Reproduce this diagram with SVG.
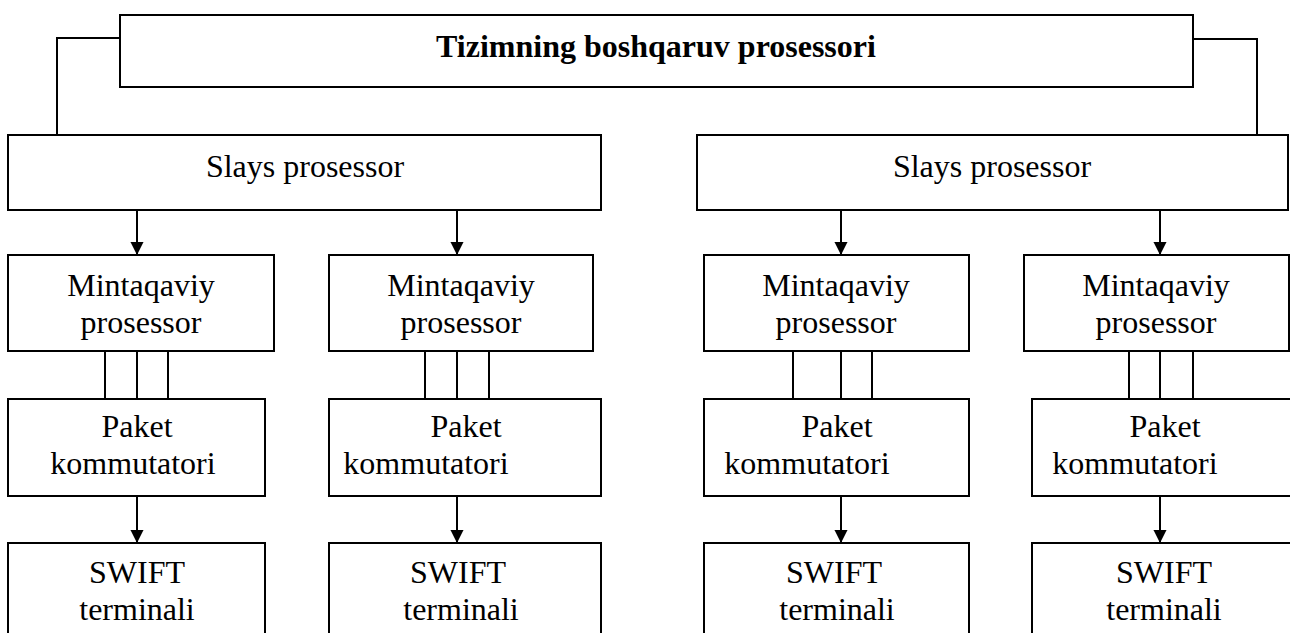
<svg xmlns="http://www.w3.org/2000/svg" width="1290" height="633" viewBox="0 0 1290 633">
  <style>
    .box { fill: #ffffff; stroke: #000000; stroke-width: 2; }
    text { font-family: 'Liberation Serif', 'Tinos', 'Times New Roman', 'DejaVu Serif', serif; font-size: 32px; fill: #000000; text-anchor: middle; }
    .title { font-weight: bold; }
    .wire { fill: none; stroke: #000000; stroke-width: 2; }
    .arrow { fill: none; stroke: #000000; stroke-width: 2; marker-end: url(#head); }
  </style>
  <defs>
    <marker id="head" viewBox="0 0 14 15" refX="14" refY="7" markerWidth="15" markerHeight="14" markerUnits="userSpaceOnUse" orient="auto">
      <path d="M0,0 L14,7 L0,14 Z" fill="#000000"/>
    </marker>
  </defs>
  <rect width="1290" height="633" fill="#ffffff"/>

  <!-- links between blocks -->
  <g id="connectors">
    <polyline class="wire" points="120,38 57,38 57,135"/>
    <polyline class="wire" points="1193,39 1257,39 1257,135"/>
    <!-- slice processor to regional processors -->
    <line class="arrow" x1="137" y1="206" x2="137" y2="255"/>
    <line class="arrow" x1="457" y1="206" x2="457" y2="255"/>
    <line class="arrow" x1="841" y1="206" x2="841" y2="255"/>
    <line class="arrow" x1="1160" y1="206" x2="1160" y2="255"/>
    <!-- triple links regional processor to packet switch -->
    <line class="wire" x1="105" y1="351" x2="105" y2="399"/>
    <line class="wire" x1="137" y1="351" x2="137" y2="399"/>
    <line class="wire" x1="168" y1="351" x2="168" y2="399"/>
    <line class="wire" x1="425" y1="351" x2="425" y2="399"/>
    <line class="wire" x1="457" y1="351" x2="457" y2="399"/>
    <line class="wire" x1="489" y1="351" x2="489" y2="399"/>
    <line class="wire" x1="793" y1="351" x2="793" y2="399"/>
    <line class="wire" x1="841" y1="351" x2="841" y2="399"/>
    <line class="wire" x1="872" y1="351" x2="872" y2="399"/>
    <line class="wire" x1="1129" y1="351" x2="1129" y2="399"/>
    <line class="wire" x1="1160" y1="351" x2="1160" y2="399"/>
    <line class="wire" x1="1193" y1="351" x2="1193" y2="399"/>
    <!-- packet switch to SWIFT terminal -->
    <line class="arrow" x1="137" y1="496" x2="137" y2="543"/>
    <line class="arrow" x1="457" y1="496" x2="457" y2="543"/>
    <line class="arrow" x1="841" y1="496" x2="841" y2="543"/>
    <line class="arrow" x1="1160" y1="496" x2="1160" y2="543"/>
  </g>

  <g id="control">
    <rect class="box" x="120" y="15" width="1073" height="72"/>
    <text class="title" x="656" y="57">Tizimning boshqaruv prosessori</text>
  </g>

  <g id="slice-left">
    <rect class="box" x="8" y="135" width="593" height="75"/>
    <text x="305" y="177">Slays prosessor</text>
  </g>
  <g id="slice-right">
    <rect class="box" x="697" y="135" width="591" height="75"/>
    <text x="992" y="177">Slays prosessor</text>
  </g>

  <g id="regional-1">
    <rect class="box" x="8" y="255" width="266" height="96"/>
    <text x="141" y="296">Mintaqaviy</text>
    <text x="141" y="333">prosessor</text>
  </g>
  <g id="regional-2">
    <rect class="box" x="329" y="255" width="264" height="96"/>
    <text x="461" y="296">Mintaqaviy</text>
    <text x="461" y="333">prosessor</text>
  </g>
  <g id="regional-3">
    <rect class="box" x="704" y="255" width="265" height="96"/>
    <text x="836" y="296">Mintaqaviy</text>
    <text x="836" y="333">prosessor</text>
  </g>
  <g id="regional-4">
    <rect class="box" x="1024" y="255" width="265" height="96"/>
    <text x="1156" y="296">Mintaqaviy</text>
    <text x="1156" y="333">prosessor</text>
  </g>

  <g id="switch-1">
    <rect class="box" x="8" y="399" width="257" height="97"/>
    <text x="137" y="437">Paket</text>
    <text x="133" y="474">kommutatori</text>
  </g>
  <g id="switch-2">
    <rect class="box" x="329" y="399" width="272" height="97"/>
    <text x="466" y="437">Paket</text>
    <text x="426" y="474">kommutatori</text>
  </g>
  <g id="switch-3">
    <rect class="box" x="704" y="399" width="265" height="97"/>
    <text x="837" y="437">Paket</text>
    <text x="807" y="474">kommutatori</text>
  </g>
  <g id="switch-4">
    <rect class="box" x="1032" y="399" width="262" height="97"/>
    <text x="1165" y="437">Paket</text>
    <text x="1135" y="474">kommutatori</text>
  </g>

  <g id="terminal-1">
    <rect class="box" x="8" y="543" width="257" height="100"/>
    <text x="137" y="583">SWIFT</text>
    <text x="137" y="620">terminali</text>
  </g>
  <g id="terminal-2">
    <rect class="box" x="329" y="543" width="272" height="100"/>
    <text x="458" y="583">SWIFT</text>
    <text x="461" y="620">terminali</text>
  </g>
  <g id="terminal-3">
    <rect class="box" x="704" y="543" width="265" height="100"/>
    <text x="834" y="583">SWIFT</text>
    <text x="837" y="620">terminali</text>
  </g>
  <g id="terminal-4">
    <rect class="box" x="1032" y="543" width="262" height="100"/>
    <text x="1164" y="583">SWIFT</text>
    <text x="1164" y="620">terminali</text>
  </g>
</svg>
